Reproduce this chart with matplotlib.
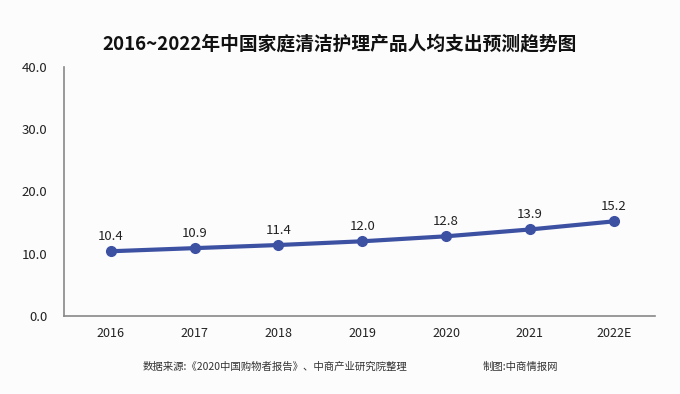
import matplotlib
matplotlib.use("Agg")
import matplotlib.pyplot as plt

plt.rcParams['font.family'] = ['Noto Sans CJK SC', 'DejaVu Sans']

# data
years = ['2016', '2017', '2018', '2019', '2020', '2021', '2022E']
spend = [10.4, 10.9, 11.4, 12.0, 12.8, 13.9, 15.2]
yticks = [0, 10, 20, 30, 40]

bg = '#fcfcfc'
line_color = '#3d51a3'

fig = plt.figure(figsize=(6.8, 3.94), dpi=100, facecolor=bg)
ax = fig.add_axes([0.094, 0.198, 0.869, 0.632], facecolor=bg)

x = list(range(len(years)))
ax.plot(x, spend, color=line_color, linewidth=3, marker='o', markersize=7, zorder=3)
for xi, v in zip(x, spend):
    ax.annotate(f'{v:.1f}', (xi, v), xytext=(0, 6), textcoords='offset points',
                ha='center', va='bottom', fontsize=9.5, color='#222222')

ax.set_xlim(-0.56, 6.49)
ax.set_ylim(0, 40)
ax.set_xticks(x)
ax.set_xticklabels(years, fontsize=9, color='#222222')
ax.set_yticks(yticks)
ax.set_yticklabels([f'{t:.1f}' for t in yticks], fontsize=9.5, color='#222222')
ax.tick_params(axis='both', length=0)
ax.tick_params(axis='x', pad=8)
ax.tick_params(axis='y', pad=12)

for side in ['top', 'right']:
    ax.spines[side].set_visible(False)
for side in ['left', 'bottom']:
    ax.spines[side].set_color('#888888')
    ax.spines[side].set_linewidth(1.2)

fig.text(0.5, 0.888, '2016~2022年中国家庭清洁护理产品人均支出预测趋势图',
         ha='center', va='center', fontsize=13.5, fontweight='bold', color='#111111')
fig.text(0.21, 0.07, '数据来源:《2020中国购物者报告》、中商产业研究院整理',
         ha='left', va='center', fontsize=7.5, color='#333333')
fig.text(0.71, 0.07, '制图:中商情报网',
         ha='left', va='center', fontsize=7.5, color='#333333')

fig.savefig('out.png', dpi=100, facecolor=bg)
